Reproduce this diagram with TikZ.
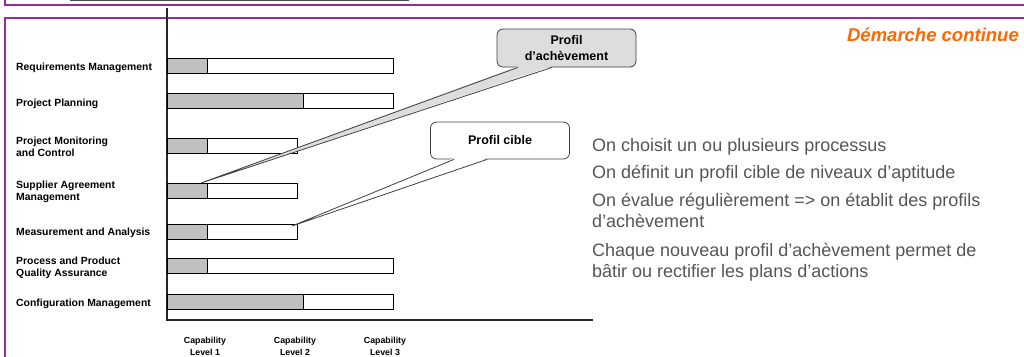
\documentclass[tikz,border=0pt]{standalone}
\usepackage{fontspec}
\setmainfont{Liberation Sans}
\definecolor{framepurple}{RGB}{150,45,150}
\definecolor{bargray}{RGB}{192,192,192}
\definecolor{achgray}{RGB}{221,221,221}
\definecolor{notegray}{RGB}{85,85,85}
\definecolor{accentorange}{RGB}{255,102,0}
\begin{document}
\begin{tikzpicture}[x=1pt,y=-1pt,
  frameline/.style={draw=framepurple,line width=1.3pt},
  axisline/.style={draw=black!85,line width=1.4pt},
  barbox/.style={draw=black,line width=0.9pt},
  achieved/.style={barbox,fill=bargray},
  catlabel/.style={font=\bfseries\fontsize{10.4}{12}\selectfont,anchor=west,align=left,inner sep=0pt},
  caplabel/.style={font=\bfseries\fontsize{8.8}{12}\selectfont,anchor=north,align=center,inner sep=0pt},
  callout/.style={draw=black!75,line width=0.8pt,rounded corners=6pt,font=\bfseries\fontsize{12.5}{16}\selectfont,align=center,inner sep=0pt},
  pointer/.style={draw=black!75,line width=0.8pt},
  note/.style={font=\fontsize{18}{20}\selectfont,text=notegray,anchor=base west,inner sep=0pt}]
\useasboundingbox (0,0) rectangle (1024,356);
\clip (0,0) rectangle (1024,356);

% upper frame edge and the bottom of the title box above it
\draw[draw=black!70,line width=1pt] (70,-5) rectangle (408,0.4);
\draw[frameline] (5,-3) -- (5,5) -- (1030,5);
% main frame
\draw[frameline] (1030,18) -- (5,18) -- (5,362);

% axes
\draw[axisline] (167,8) -- (167,320) -- (593,320);

% bars: achieved part (grey) and remaining part up to the target level
\newcommand\profilebar[3]{%
  \draw[barbox] (167,#1-7.5) rectangle (#3,#1+7.5);
  \draw[achieved] (167,#1-7.5) rectangle (#2,#1+7.5);}
\profilebar{66}{207}{393}
\profilebar{101}{303}{393}
\profilebar{145.5}{207}{297}
\profilebar{191}{207}{297}
\profilebar{232}{207}{297}
\profilebar{266}{207}{393}
\profilebar{302}{303}{393}

% process area labels
\node[catlabel] (rm)   at (16,68)    {Requirements Management};
\node[catlabel] (pp)   at (16,103.5) {Project Planning};
\node[catlabel] (pmc)  at (16,146.5) {Project Monitoring\\and Control};
\node[catlabel] (sam)  at (16,191.5) {Supplier Agreement\\Management};
\node[catlabel] (ma)   at (16,232.5) {Measurement and Analysis};
\node[catlabel] (ppqa) at (16,267.5) {Process and Product\\Quality Assurance};
\node[catlabel] (cm)   at (16,304)   {Configuration Management};

% capability levels
\node[caplabel] (cl1) at (205,337) {Capability\\Level 1};
\node[caplabel] (cl2) at (295,337) {Capability\\Level 2};
\node[caplabel] (cl3) at (385,337) {Capability\\Level 3};

% callouts
\coordinate (samtip) at (201,183);
\coordinate (matip) at (292,226);
\node[callout,fill=achgray,minimum width=139pt,minimum height=38pt] (ach) at (566.5,48) {Profil\\d’achèvement};
\node[callout,fill=white,minimum width=139pt,minimum height=37pt] (cible) at (500,140.5) {Profil cible};

\fill[achgray] ([xshift=-48.5pt,yshift=1.2pt]ach.south) -- (samtip) -- ([xshift=-14.5pt,yshift=1.2pt]ach.south) -- cycle;
\draw[pointer] ([xshift=-48.5pt]ach.south) -- (samtip) -- ([xshift=-14.5pt]ach.south);
\fill[white] ([xshift=-46pt,yshift=1.2pt]cible.south) -- (matip) -- ([xshift=-13pt,yshift=1.2pt]cible.south) -- cycle;
\draw[pointer] ([xshift=-46pt]cible.south) -- (matip) -- ([xshift=-13pt]cible.south);

% heading
\node[font=\bfseries\itshape\fontsize{18.5}{20}\selectfont,text=accentorange,anchor=base east,inner sep=0pt] (title) at (1019,41) {Démarche continue};

% explanatory notes
\node[note] (n1) at (592,151) {On choisit un ou plusieurs processus};
\node[note] (n2) at (592,178.5) {On définit un profil cible de niveaux d’aptitude};
\node[note] (n3) at (592,206) {On évalue régulièrement => on établit des profils};
\node[note] (n3b) at (592,227) {d’achèvement};
\node[note] (n4) at (592,256) {Chaque nouveau profil d’achèvement permet de};
\node[note] (n4b) at (592,277) {bâtir ou rectifier les plans d’actions};
\end{tikzpicture}
\end{document}
